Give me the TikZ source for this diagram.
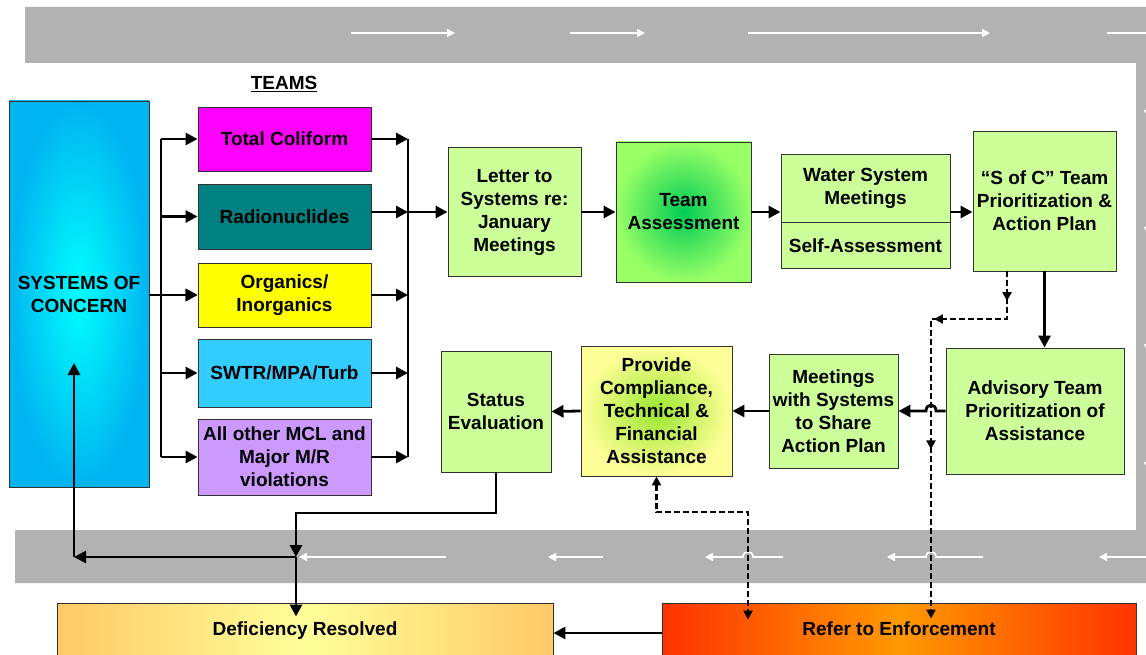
\documentclass[tikz,border=0pt]{standalone}
\usepackage{fontspec}
\setmainfont{Liberation Sans}
\usetikzlibrary{arrows.meta,positioning,calc,decorations.markings}

\definecolor{bandgray}{HTML}{B2B2B2}
\definecolor{boxgreen}{HTML}{CCFF99}
\definecolor{colimag}{HTML}{FF00FF}
\definecolor{radioteal}{HTML}{008080}
\definecolor{organyellow}{HTML}{FFFF00}
\definecolor{swtrblue}{HTML}{33CCFF}
\definecolor{otherlilac}{HTML}{CC99FF}
\definecolor{soccyan}{HTML}{00FFFF}
\definecolor{socblue}{HTML}{00B4F0}
\definecolor{assessin}{HTML}{00CC55}
\definecolor{assessout}{HTML}{99FF66}
\definecolor{provin}{HTML}{99E62E}
\definecolor{provout}{HTML}{FFFF99}
\definecolor{defedge}{HTML}{FFC966}
\definecolor{defmid}{HTML}{FFFF99}
\definecolor{refred}{HTML}{FF3300}
\definecolor{reforange}{HTML}{FF9900}

\begin{document}
\begin{tikzpicture}[x=1pt,y=-1pt,
	box/.style={draw=black!80,line width=0.9pt,inner sep=0pt,align=center,font=\fontsize{19}{23}\selectfont\bfseries},
	conn/.style={line width=2.8pt,-{Triangle[length=12pt,width=12pt]}},
	bus/.style={line width=2.8pt},
	dconn/.style={line width=2.4pt,dash pattern=on 6pt off 3pt},
	wline/.style={white,line width=1.6pt,-{Triangle[length=8pt,width=8pt]}}]
	
	\fill[white] (0,0) rectangle (1146,655);
	\useasboundingbox (0,0) rectangle (1146,655);
	
	% loop band
	\fill[bandgray] (25,7) -- (1160,7) -- (1160,583) -- (15,583) -- (15,530) -- (1136,530) -- (1136,63) -- (25,63) -- cycle;
	\foreach \a/\b in {351/455,570/645,748/990,1107/1160}{
		\draw[wline] (\a,33) -- (\b,33);
	}
	\foreach \y in {118,235,352,470}{
		\draw[wline] (1148,\y-40) -- (1148,\y);
	}
	\draw[wline] (446,557) -- (299,557);
	\draw[wline] (603,557) -- (548,557);
	\draw[wline] (783,557) -- (753,557) .. controls +(0,-7) and +(0,-7) .. (743,557) -- (705,557);
	\draw[wline] (983,557) -- (936,557) .. controls +(0,-7) and +(0,-7) .. (926,557) -- (887,557);
	\draw[wline] (1160,557) -- (1099,557);
	
	\node[box,inner color=soccyan,outer color=socblue,minimum width=140pt,minimum height=386pt] (soc) at (79,294) {SYSTEMS OF\\CONCERN};
	
	\node[font=\fontsize{19}{23}\selectfont\bfseries] (teams) at (284,84) {\underline{TEAMS}};
	\node[box,fill=colimag,minimum width=173pt,minimum height=64pt] (coli) at (284.5,139) {Total Coliform};
	\node[box,fill=radioteal,minimum width=173pt,minimum height=65pt] (radio) at (284.5,216.5) {Radionuclides};
	\node[box,fill=organyellow,minimum width=173pt,minimum height=64pt] (organ) at (284.5,295) {Organics/\\Inorganics};
	\node[box,fill=swtrblue,minimum width=173pt,minimum height=68pt] (swtr) at (284.5,373) {SWTR/MPA/Turb};
	\node[box,fill=otherlilac,minimum width=173pt,minimum height=76pt] (other) at (284.5,457) {All other MCL and\\Major M/R\\violations};
	
	\node[box,fill=boxgreen,minimum width=133pt,minimum height=129pt] (letter) at (514.5,212) {Letter to\\Systems re:\\January\\Meetings};
	\node[box,inner color=assessin,outer color=assessout,minimum width=135pt,minimum height=140pt] (assess) at (683.5,212) {Team\\Assessment};
	\node[box,fill=boxgreen,minimum width=169pt,minimum height=68pt] (waterTop) at (865.5,188) {Water System\\Meetings};
	\node[box,fill=boxgreen,minimum width=169pt,minimum height=46pt,below=0pt of waterTop] (waterBot) {Self-Assessment};
	\node[box,fill=boxgreen,minimum width=143pt,minimum height=140pt] (sofc) at (1044.5,201) {“S of C” Team\\Prioritization \&\\Action Plan};
	
	\node[box,fill=boxgreen,minimum width=178pt,minimum height=126pt] (advis) at (1035,411) {Advisory Team\\Prioritization of\\Assistance};
	\node[box,fill=boxgreen,minimum width=129pt,minimum height=114pt] (meet) at (833.5,411) {Meetings\\with Systems\\to Share\\Action Plan};
	\node[box,inner color=provin,outer color=provout,minimum width=151pt,minimum height=130pt] (provide) at (656.5,411) {Provide\\Compliance,\\Technical \&\\Financial\\Assistance};
	\node[box,fill=boxgreen,minimum width=110pt,minimum height=121pt] (status) at (496,411.5) {Status\\Evaluation};
	
	\node[box,left color=defedge,right color=defedge,middle color=defmid,minimum width=496pt,minimum height=60pt,text height=13pt,text depth=9pt] (defic) at (305,633) {Deficiency Resolved};
	\node[box,left color=refred,right color=refred,middle color=reforange,minimum width=474pt,minimum height=60pt,text height=13pt,text depth=9pt] (refer) at (899,633) {Refer to Enforcement};
	
	% team buses
	\coordinate (lbus) at (161,0);
	\coordinate (rbus) at (408,0);
	\draw[bus] (lbus |- coli.west) -- (lbus |- other.west);
	\draw[bus] (rbus |- coli.east) -- (rbus |- other.east);
	\foreach \team in {coli,radio,organ,swtr,other}{
		\draw[conn] (lbus |- \team.west) -- (\team.west);
	}
	\foreach \team in {coli,organ,swtr,other}{
		\draw[conn] (\team.east) -- (rbus |- \team.east);
	}
	\draw[conn] (radio.east |- letter.west) -- (rbus |- letter.west);
	\draw[conn] (soc.east |- organ.west) -- (organ.west);
	\draw[conn] (rbus |- letter.west) -- (letter.west);
	
	\draw[conn] (letter.east) -- (letter.east -| assess.west);
	\draw[conn] (assess.east) -- (assess.east -| waterTop.west);
	\draw[conn] (assess.east -| waterTop.east) -- (assess.east -| sofc.west);
	\draw[conn] (sofc.south) -- (sofc.south |- advis.north);
	
	\coordinate (dtop) at (1007,319);
	\coordinate (dx) at (931,319);
	\draw[conn] (advis.west) -- ($(advis.west -| dx)+(5,0)$) .. controls +(0,-8) and +(0,-8) .. ($(advis.west -| dx)+(-5,0)$) -- (meet.east);
	\draw[conn] (meet.west) -- (provide.east);
	\draw[conn] (provide.west) -- (status.east);
	
	% way back
	\coordinate (bend) at (296,513);
	\coordinate (junc) at (296,557);
	\coordinate (corner) at (74,557);
	\draw[conn] (status.south) |- (bend) -- (junc);
	\draw[conn] (junc) -- (corner);
	\draw[conn] (corner) -- ++(0,-194);
	\draw[conn] (junc) -- ($(junc |- defic.north)+(0,14)$);
	\draw[conn] (refer.west) -- (defic.east);
	
	% enforcement
	\draw[dconn,-{Triangle[length=9pt,width=9pt]},postaction={decorate},decoration={markings,
		mark=at position 0.07 with {\arrow{Triangle[length=9pt,width=9pt]}},
		mark=at position 0.285 with {\arrow{Triangle[length=9pt,width=9pt]}},
		mark=at position 0.6 with {\arrow{Triangle[length=9pt,width=9pt]}}}]
		(sofc.south -| dtop) -- (dtop) -- (dx) -- ($(refer.north -| dx)+(0,16)$);
	\coordinate (dmid) at (748,512);
	\draw[dconn,{Triangle[length=9pt,width=9pt]}-{Triangle[length=9pt,width=9pt]}] (provide.south) |- (dmid) -- ($(refer.north -| dmid)+(0,17)$);
	
\end{tikzpicture}
\end{document}
